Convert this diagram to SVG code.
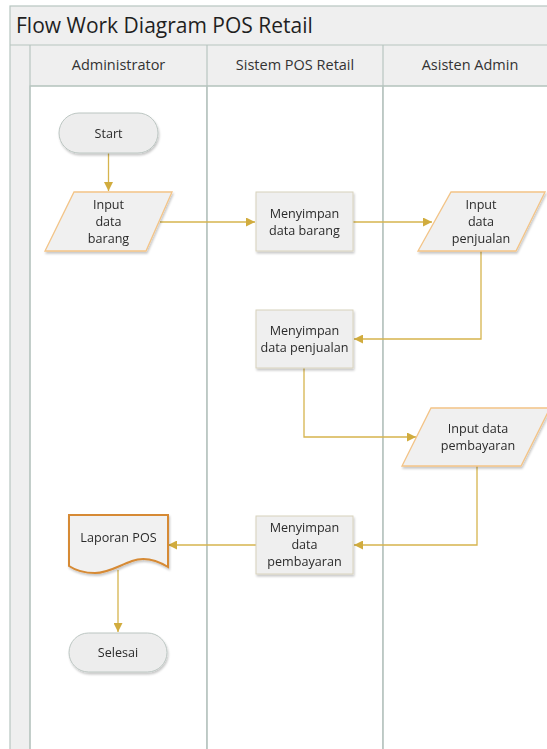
<svg xmlns="http://www.w3.org/2000/svg" width="547" height="749" viewBox="0 0 547 749">
  <style>
    text { font-family: "Open Sans", "Noto Sans", "DejaVu Sans", sans-serif; fill: #2b2b2b; }
    .title { font-size: 21px; fill: #1f1f1f; }
    .hdr { font-size: 14.5px; text-anchor: middle; fill: #333; }
    .lbl { font-size: 12.6px; text-anchor: middle; }
    .frame { fill: #efefef; stroke: #b7c5c0; stroke-width: 1.2; }
    .lane { fill: #ffffff; stroke: #b7c5c0; stroke-width: 1.2; }
    .term { fill: #ededed; stroke: #bcc6c2; stroke-width: 1; }
    .proc { fill: #efefef; stroke: #d8d2bc; stroke-width: 1; }
    .io { fill: #f0f0f0; stroke: #f3c487; stroke-width: 1.3; }
    .doc { fill: #f1f1f1; stroke: #d68a34; stroke-width: 2; }
    .conn { fill: none; stroke: #d6b44e; stroke-width: 1.3; }
  </style>
  <defs>
    <marker id="arrow" viewBox="0 0 10 10" refX="10" refY="5" markerWidth="9" markerHeight="9" markerUnits="userSpaceOnUse" orient="auto">
      <path d="M0,0 L10,5 L0,10 Z" fill="#d1ac3e"/>
    </marker>
    <filter id="shadow" x="-10%" y="-10%" width="130%" height="140%">
      <feDropShadow dx="1" dy="2" stdDeviation="1.2" flood-color="#000" flood-opacity="0.22"/>
    </filter>
  </defs>

  <!-- swimlane pool -->
  <g id="pool">
    <rect class="frame" x="10" y="6" width="560" height="760"/>
    <line x1="10" y1="45" x2="560" y2="45" stroke="#b7c5c0" stroke-width="1.2"/>
    <text class="title" x="16" y="33">Flow Work Diagram POS Retail</text>
    <!-- lanes -->
    <rect class="lane" x="30" y="86" width="177" height="680"/>
    <rect class="lane" x="207" y="86" width="176" height="680"/>
    <rect class="lane" x="383" y="86" width="180" height="680"/>
    <line x1="30" y1="45" x2="30" y2="766" stroke="#b7c5c0" stroke-width="1.2"/>
    <line x1="207" y1="45" x2="207" y2="766" stroke="#b7c5c0" stroke-width="1.2"/>
    <line x1="383" y1="45" x2="383" y2="766" stroke="#b7c5c0" stroke-width="1.2"/>
    <line x1="30" y1="86" x2="560" y2="86" stroke="#b7c5c0" stroke-width="1.2"/>
    <text class="hdr" x="118.5" y="70">Administrator</text>
    <text class="hdr" x="295" y="70">Sistem POS Retail</text>
    <text class="hdr" x="470" y="70">Asisten Admin</text>
  </g>

  <!-- connectors -->
  <g id="connectors">
    <path class="conn" d="M108.5,153 L108.5,191" marker-end="url(#arrow)"/>
    <path class="conn" d="M160,222 L255,222" marker-end="url(#arrow)"/>
    <path class="conn" d="M353,222 L432,222" marker-end="url(#arrow)"/>
    <path class="conn" d="M481,251 L481,339 L354,339" marker-end="url(#arrow)"/>
    <path class="conn" d="M304,368 L304,437 L416,437" marker-end="url(#arrow)"/>
    <path class="conn" d="M477,466 L477,545 L354,545" marker-end="url(#arrow)"/>
    <path class="conn" d="M256,545 L168,545" marker-end="url(#arrow)"/>
    <path class="conn" d="M118,570 L118,632" marker-end="url(#arrow)"/>
  </g>

  <g id="start" filter="url(#shadow)">
    <rect class="term" x="59" y="113" width="99" height="40" rx="20" ry="20"/>
    <text class="lbl" x="108.5" y="137.5">Start</text>
  </g>

  <g id="input-data-barang" filter="url(#shadow)">
    <polygon class="io" points="74,192 172,192 146,251 45,251"/>
    <text class="lbl" x="108.5" y="208.5">Input</text>
    <text class="lbl" x="108.5" y="225.5">data</text>
    <text class="lbl" x="108.5" y="242.5">barang</text>
  </g>

  <g id="menyimpan-data-barang" filter="url(#shadow)">
    <rect class="proc" x="256" y="192" width="97" height="59"/>
    <text class="lbl" x="304.5" y="217.5">Menyimpan</text>
    <text class="lbl" x="304.5" y="234.5">data barang</text>
  </g>

  <g id="input-data-penjualan" filter="url(#shadow)">
    <polygon class="io" points="451,192 545,192 516,251 418,251"/>
    <text class="lbl" x="481" y="208.5">Input</text>
    <text class="lbl" x="481" y="225.5">data</text>
    <text class="lbl" x="481" y="242.5">penjualan</text>
  </g>

  <g id="menyimpan-data-penjualan" filter="url(#shadow)">
    <rect class="proc" x="256" y="310" width="97" height="58"/>
    <text class="lbl" x="304.5" y="334.5">Menyimpan</text>
    <text class="lbl" x="304.5" y="351.5">data penjualan</text>
  </g>

  <g id="input-data-pembayaran" filter="url(#shadow)">
    <polygon class="io" points="431,408 550,408 521,466 402,466"/>
    <text class="lbl" x="478" y="432.5">Input data</text>
    <text class="lbl" x="478" y="449.5">pembayaran</text>
  </g>

  <g id="menyimpan-data-pembayaran" filter="url(#shadow)">
    <rect class="proc" x="256" y="516" width="97" height="58"/>
    <text class="lbl" x="304.5" y="532">Menyimpan</text>
    <text class="lbl" x="304.5" y="549">data</text>
    <text class="lbl" x="304.5" y="566">pembayaran</text>
  </g>

  <g id="laporan-pos" filter="url(#shadow)">
    <path class="doc" d="M69,515 L168,515 L168,567 C155,559 143,557 132,561 C118,566 108,573 95,573 C83,573 75,570 69,566 Z"/>
    <text class="lbl" x="118.5" y="542">Laporan POS</text>
  </g>

  <g id="selesai" filter="url(#shadow)">
    <rect class="term" x="69" y="633" width="98" height="39" rx="19.5" ry="19.5"/>
    <text class="lbl" x="118" y="657">Selesai</text>
  </g>
</svg>
